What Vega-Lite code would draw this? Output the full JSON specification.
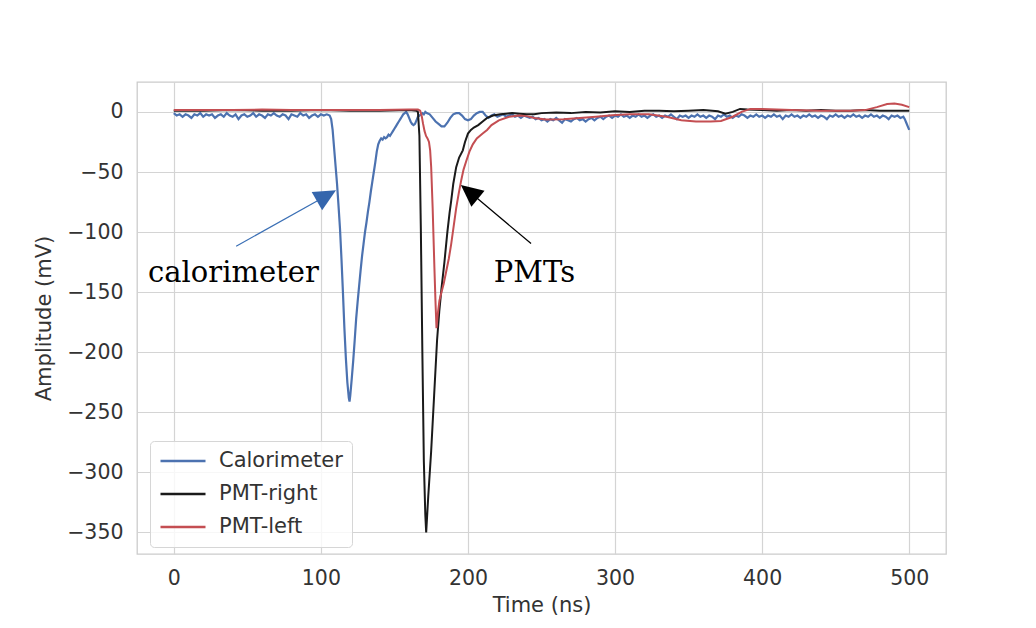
{
  "$schema": "https://vega.github.io/schema/vega-lite/v6.json",
  "width": 809,
  "height": 472,
  "autosize": {"type": "none"},
  "padding": {"left": 137, "top": 82, "right": 90, "bottom": 74},
  "background": "white",
  "config": {
    "view": {"stroke": "#cccccc", "strokeWidth": 1.3},
    "font": "DejaVu Sans",
    "axis": {
      "grid": true, "gridColor": "#d4d4d4", "gridWidth": 1.2,
      "domain": false, "ticks": false, "tickSize": 0,
      "labelFont": "DejaVu Sans", "labelFontSize": 20.5, "labelColor": "#333333",
      "titleFont": "DejaVu Sans", "titleFontSize": 21, "titleColor": "#333333", "titleFontWeight": "normal"
    }
  },
  "datasets": {
    "cal": [
      {"t":0,"v":-1},{"t":2,"v":-3},{"t":4,"v":-2},{"t":6,"v":-4},{"t":8,"v":-2},{"t":10,"v":-3},{"t":12,"v":-5},{"t":14,"v":-2},{"t":16,"v":-3},{"t":18,"v":-1},
      {"t":20,"v":-4},{"t":22,"v":-2},{"t":24,"v":-3},{"t":26,"v":-2},{"t":28,"v":-5},{"t":30,"v":-3},{"t":32,"v":-2},{"t":34,"v":-4},{"t":36,"v":-1},{"t":38,"v":-3},
      {"t":40,"v":-4},{"t":42,"v":-2},{"t":44,"v":-6},{"t":46,"v":-3},{"t":48,"v":-2},{"t":50,"v":-4},{"t":52,"v":-3},{"t":54,"v":-1},{"t":56,"v":-4},{"t":58,"v":-2},
      {"t":60,"v":-3},{"t":62,"v":-5},{"t":64,"v":-2},{"t":66,"v":-3},{"t":68,"v":-1},{"t":70,"v":-3},{"t":72,"v":-4},{"t":74,"v":-2},{"t":76,"v":-3},{"t":78,"v":-6},
      {"t":80,"v":-2},{"t":82,"v":-3},{"t":84,"v":-4},{"t":86,"v":-1},{"t":88,"v":-3},{"t":90,"v":-2},{"t":92,"v":-5},{"t":94,"v":-3},{"t":96,"v":-2},{"t":98,"v":-4},
      {"t":100,"v":-2},{"t":102,"v":-3},{"t":104,"v":-2},{"t":106,"v":-3},{"t":107,"v":-6},{"t":108,"v":-15},{"t":109,"v":-30},{"t":110,"v":-45},{"t":111,"v":-60},
      {"t":112,"v":-78},{"t":113,"v":-97},{"t":114,"v":-122},{"t":115,"v":-150},{"t":116,"v":-180},{"t":117,"v":-205},{"t":118,"v":-225},{"t":119,"v":-238},{"t":119.5,"v":-241},
      {"t":120,"v":-236},{"t":121,"v":-222},{"t":122,"v":-207},{"t":123,"v":-190},{"t":124,"v":-172},{"t":125,"v":-158},{"t":126,"v":-145},{"t":127,"v":-132},{"t":128,"v":-120},
      {"t":129,"v":-110},{"t":130,"v":-100},{"t":131,"v":-92},{"t":132,"v":-83},{"t":133,"v":-75},{"t":134,"v":-66},{"t":135,"v":-58},{"t":136,"v":-50},{"t":137,"v":-42},
      {"t":138,"v":-33},{"t":139,"v":-27},{"t":140,"v":-24},{"t":141,"v":-22},{"t":142,"v":-23},{"t":143,"v":-21},{"t":144,"v":-22},{"t":145,"v":-21},{"t":146,"v":-19},
      {"t":147,"v":-20},{"t":148,"v":-18},{"t":149,"v":-16},{"t":150,"v":-14},{"t":151,"v":-12},{"t":152,"v":-10},{"t":153,"v":-8},{"t":154,"v":-6},{"t":155,"v":-4},
      {"t":156,"v":-2},{"t":157,"v":-1},{"t":158,"v":0},{"t":159,"v":-2},{"t":160,"v":-5},{"t":161,"v":-8},{"t":162,"v":-10},{"t":163,"v":-11},{"t":164,"v":-10},
      {"t":165,"v":-7},{"t":166,"v":-4},{"t":167,"v":-3},{"t":168,"v":-2},{"t":169,"v":-1},{"t":170,"v":-2},{"t":171,"v":0},{"t":172,"v":-1},{"t":174,"v":-2},
      {"t":176,"v":-5},{"t":178,"v":-8},{"t":180,"v":-10},{"t":182,"v":-12},{"t":184,"v":-12},{"t":186,"v":-9},{"t":188,"v":-5},{"t":190,"v":-2},{"t":192,"v":-1},
      {"t":194,"v":-1},{"t":196,"v":-3},{"t":198,"v":-6},{"t":200,"v":-7},{"t":202,"v":-6},{"t":204,"v":-3},{"t":206,"v":-1},{"t":208,"v":0},{"t":210,"v":0},
      {"t":212,"v":-3},{"t":214,"v":-5},{"t":216,"v":-3},{"t":218,"v":-2},{"t":220,"v":-4},{"t":222,"v":-3},{"t":224,"v":-2},{"t":226,"v":-4},{"t":228,"v":-3},
      {"t":230,"v":-2},{"t":232,"v":-4},{"t":234,"v":-3},{"t":236,"v":-5},{"t":238,"v":-3},{"t":240,"v":-4},{"t":242,"v":-5},{"t":244,"v":-4},{"t":246,"v":-6},
      {"t":248,"v":-5},{"t":250,"v":-7},{"t":252,"v":-6},{"t":254,"v":-8},{"t":256,"v":-6},{"t":258,"v":-7},{"t":260,"v":-5},{"t":262,"v":-7},{"t":264,"v":-9},
      {"t":266,"v":-6},{"t":268,"v":-7},{"t":270,"v":-8},{"t":272,"v":-6},{"t":274,"v":-5},{"t":276,"v":-7},{"t":278,"v":-6},{"t":280,"v":-8},{"t":282,"v":-6},
      {"t":284,"v":-5},{"t":286,"v":-7},{"t":288,"v":-5},{"t":290,"v":-4},{"t":292,"v":-6},{"t":294,"v":-4},{"t":296,"v":-3},{"t":298,"v":-5},{"t":300,"v":-3},
      {"t":302,"v":-4},{"t":304,"v":-2},{"t":306,"v":-4},{"t":308,"v":-3},{"t":310,"v":-5},{"t":312,"v":-3},{"t":314,"v":-4},{"t":316,"v":-2},{"t":318,"v":-4},
      {"t":320,"v":-3},{"t":322,"v":-5},{"t":324,"v":-3},{"t":326,"v":-2},{"t":328,"v":-4},{"t":330,"v":-3},{"t":332,"v":-5},{"t":334,"v":-3},{"t":336,"v":-4},
      {"t":338,"v":-2},{"t":340,"v":-4},{"t":342,"v":-6},{"t":344,"v":-3},{"t":346,"v":-4},{"t":348,"v":-3},{"t":350,"v":-5},{"t":352,"v":-3},{"t":354,"v":-4},
      {"t":356,"v":-2},{"t":358,"v":-4},{"t":360,"v":-3},{"t":362,"v":-5},{"t":364,"v":-3},{"t":366,"v":-4},{"t":368,"v":-6},{"t":370,"v":-3},{"t":372,"v":-4},
      {"t":374,"v":-2},{"t":376,"v":-4},{"t":378,"v":-3},{"t":380,"v":-5},{"t":382,"v":-3},{"t":384,"v":-4},{"t":386,"v":-2},{"t":388,"v":-3},{"t":390,"v":-5},
      {"t":392,"v":-3},{"t":394,"v":-4},{"t":396,"v":-2},{"t":398,"v":-4},{"t":400,"v":-3},{"t":402,"v":-5},{"t":404,"v":-3},{"t":406,"v":-4},{"t":408,"v":-2},
      {"t":410,"v":-4},{"t":412,"v":-3},{"t":414,"v":-6},{"t":416,"v":-3},{"t":418,"v":-4},{"t":420,"v":-2},{"t":422,"v":-4},{"t":424,"v":-3},{"t":426,"v":-5},
      {"t":428,"v":-3},{"t":430,"v":-4},{"t":432,"v":-2},{"t":434,"v":-4},{"t":436,"v":-3},{"t":438,"v":-5},{"t":440,"v":-3},{"t":442,"v":-4},{"t":444,"v":-6},
      {"t":446,"v":-3},{"t":448,"v":-4},{"t":450,"v":-2},{"t":452,"v":-4},{"t":454,"v":-3},{"t":456,"v":-5},{"t":458,"v":-3},{"t":460,"v":-4},{"t":462,"v":-2},
      {"t":464,"v":-4},{"t":466,"v":-3},{"t":468,"v":-5},{"t":470,"v":-3},{"t":472,"v":-4},{"t":474,"v":-2},{"t":476,"v":-4},{"t":478,"v":-3},{"t":480,"v":-5},
      {"t":482,"v":-3},{"t":484,"v":-4},{"t":486,"v":-6},{"t":488,"v":-3},{"t":490,"v":-4},{"t":492,"v":-3},{"t":494,"v":-5},{"t":496,"v":-4},{"t":497,"v":-6},
      {"t":498,"v":-9},{"t":499,"v":-12},{"t":500,"v":-15}
    ],
    "pr": [
      {"t":0,"v":1},{"t":20,"v":1},{"t":40,"v":1.5},{"t":60,"v":1},{"t":80,"v":1},{"t":100,"v":1.5},{"t":120,"v":1},{"t":140,"v":1},{"t":160,"v":1.5},{"t":165,"v":1},
      {"t":166,"v":0},{"t":167,"v":-20},{"t":168,"v":-100},{"t":169,"v":-200},{"t":170,"v":-290},{"t":171,"v":-335},{"t":171.6,"v":-350},{"t":173,"v":-320},
      {"t":175,"v":-282},{"t":177,"v":-236},{"t":179,"v":-190},{"t":180.5,"v":-166},{"t":182,"v":-147},{"t":184,"v":-125},{"t":186,"v":-100},{"t":187.5,"v":-84},
      {"t":188.6,"v":-74},{"t":190,"v":-60},{"t":192,"v":-46},{"t":194,"v":-38},{"t":196.5,"v":-32},{"t":198,"v":-25},{"t":200,"v":-18},{"t":202,"v":-15},
      {"t":204,"v":-13},{"t":207,"v":-11},{"t":210,"v":-8},{"t":213,"v":-5},{"t":217,"v":-3},{"t":222,"v":-2},{"t":226,"v":-1.5},{"t":230,"v":-1},{"t":235,"v":-1.5},
      {"t":240,"v":-2},{"t":245,"v":-2},{"t":250,"v":-1},{"t":260,"v":-0.5},{"t":270,"v":-1},{"t":280,"v":0},{"t":290,"v":-0.5},{"t":300,"v":0.5},{"t":310,"v":0},
      {"t":320,"v":1},{"t":330,"v":1},{"t":340,"v":0.5},{"t":350,"v":1},{"t":360,"v":1.5},{"t":370,"v":0.5},{"t":375,"v":-1.5},{"t":380,"v":0},{"t":385,"v":2.5},
      {"t":390,"v":2},{"t":400,"v":1.5},{"t":410,"v":1},{"t":420,"v":1.5},{"t":430,"v":1},{"t":440,"v":1.5},{"t":450,"v":1},{"t":460,"v":1},{"t":470,"v":1.5},
      {"t":480,"v":1},{"t":490,"v":1},{"t":500,"v":1}
    ],
    "pl": [
      {"t":0,"v":1.5},{"t":20,"v":1.5},{"t":40,"v":1.5},{"t":60,"v":2},{"t":80,"v":1.5},{"t":100,"v":1.5},{"t":120,"v":1.5},{"t":140,"v":1.5},{"t":160,"v":2},
      {"t":166,"v":2},{"t":167.5,"v":1},{"t":168.5,"v":-3},{"t":169.5,"v":-10},{"t":170.5,"v":-16},{"t":171.5,"v":-20},{"t":172.5,"v":-22},{"t":173.5,"v":-25},
      {"t":174.3,"v":-32},{"t":175,"v":-46},{"t":176,"v":-80},{"t":176.5,"v":-101},{"t":177.2,"v":-130},{"t":177.9,"v":-157},{"t":178.6,"v":-180},{"t":179.5,"v":-168},
      {"t":180.6,"v":-157},{"t":182,"v":-150},{"t":183.5,"v":-143},{"t":185,"v":-134},{"t":187,"v":-122},{"t":188.6,"v":-110},{"t":190.3,"v":-95},{"t":192,"v":-80},
      {"t":193.7,"v":-68},{"t":195.4,"v":-57},{"t":197,"v":-48},{"t":198.8,"v":-41},{"t":201,"v":-33},{"t":203.3,"v":-27},{"t":206,"v":-22},{"t":210,"v":-18},
      {"t":213,"v":-15},{"t":216,"v":-11},{"t":221,"v":-7},{"t":228,"v":-4},{"t":235,"v":-3},{"t":240,"v":-3.5},{"t":245,"v":-5},{"t":253,"v":-6.3},{"t":265,"v":-6},
      {"t":276,"v":-5},{"t":287,"v":-4},{"t":298,"v":-2.8},{"t":310,"v":-2},{"t":323,"v":-2},{"t":335,"v":-4},{"t":345,"v":-7},{"t":355,"v":-8},{"t":365,"v":-8},
      {"t":372,"v":-7.5},{"t":380,"v":-4},{"t":386,"v":0},{"t":392,"v":2.5},{"t":400,"v":2.5},{"t":410,"v":2},{"t":420,"v":1.5},{"t":440,"v":1},{"t":460,"v":1},
      {"t":470,"v":1.5},{"t":478,"v":4},{"t":485,"v":6.5},{"t":490,"v":7},{"t":495,"v":6},{"t":500,"v":4}
    ]
  },
  "encoding": {
    "x": {
      "field": "t", "type": "quantitative",
      "scale": {"domain": [-25, 525], "nice": false, "zero": false},
      "axis": {"values": [0, 100, 200, 300, 400, 500], "title": "Time (ns)", "labelPadding": 14, "titlePadding": 6}
    },
    "y": {
      "field": "v", "type": "quantitative",
      "scale": {"domain": [-367.9, 24.9], "nice": false, "zero": false},
      "axis": {"values": [-350, -300, -250, -200, -150, -100, -50, 0], "title": "Amplitude (mV)", "labelPadding": 14, "titlePadding": 12}
    }
  },
  "layer": [
    {
      "data": {"name": "cal"},
      "mark": {"type": "line", "strokeWidth": 2.2},
      "encoding": {
        "color": {
          "datum": "Calorimeter", "type": "nominal",
          "scale": {"domain": ["Calorimeter", "PMT-right", "PMT-left"], "range": ["#4c72b0", "#1a1a1a", "#c44e52"]},
          "legend": {
            "orient": "none", "legendX": 13, "legendY": 359, "title": null,
            "symbolType": "stroke", "symbolSize": 2025, "symbolStrokeWidth": 2.6,
            "labelFont": "DejaVu Sans", "labelFontSize": 21, "labelColor": "#333333", "labelOffset": 12,
            "padding": 9, "rowPadding": 11, "clipHeight": 22,
            "fillColor": "rgba(255,255,255,0.8)", "strokeColor": "#d6d6d6", "cornerRadius": 4
          }
        }
      }
    },
    {
      "data": {"name": "pr"},
      "mark": {"type": "line", "strokeWidth": 2},
      "encoding": {"color": {"datum": "PMT-right", "type": "nominal"}}
    },
    {
      "data": {"name": "pl"},
      "mark": {"type": "line", "strokeWidth": 2},
      "encoding": {"color": {"datum": "PMT-left", "type": "nominal"}}
    },
    {
      "data": {"values": [{"t": 42.4, "v": -111.8, "t2": 103.8, "v2": -69.7}]},
      "mark": {"type": "rule", "color": "#3a6fb5", "strokeWidth": 1.2},
      "encoding": {"x2": {"field": "t2"}, "y2": {"field": "v2"}}
    },
    {
      "data": {"values": [{"t": 103.8, "v": -69.7}]},
      "mark": {"type": "point", "shape": "M0,-1L-0.95,1L0.95,1Z", "size": 484, "angle": 60, "filled": true, "color": "#3566ad", "opacity": 1, "strokeWidth": 0}
    },
    {
      "data": {"values": [{"t": 242.9, "v": -109.5, "t2": 201, "v2": -66.5}]},
      "mark": {"type": "rule", "color": "#000000", "strokeWidth": 1.2},
      "encoding": {"x2": {"field": "t2"}, "y2": {"field": "v2"}}
    },
    {
      "data": {"values": [{"t": 201, "v": -66.5}]},
      "mark": {"type": "point", "shape": "M0,-1L-0.95,1L0.95,1Z", "size": 484, "angle": -51, "filled": true, "color": "#000000", "opacity": 1, "strokeWidth": 0}
    },
    {
      "data": {"values": [{"t": -17.5, "v": -141.5, "label": "calorimeter"}, {"t": 217.5, "v": -141.5, "label": "PMTs"}]},
      "mark": {"type": "text", "font": "DejaVu Serif", "fontSize": 29, "align": "left", "baseline": "alphabetic", "color": "#000000"},
      "encoding": {"text": {"field": "label"}}
    }
  ]
}
